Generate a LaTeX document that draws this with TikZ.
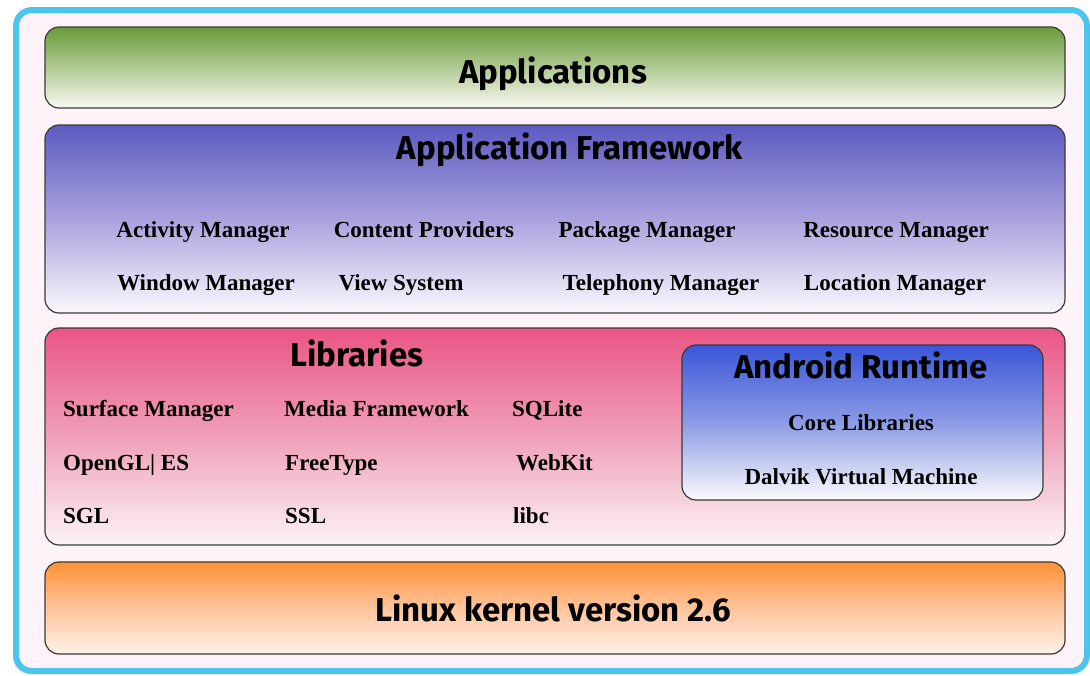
\documentclass[tikz,border=0pt]{standalone}
\usepackage{fontspec}
\setmainfont{Liberation Serif}
\newfontfamily\headfont{Fira Sans}
\usetikzlibrary{shadows}
\definecolor{frameblue}{HTML}{4BC5EE}
\definecolor{framefill}{HTML}{FDF3F8}
\definecolor{edgegray}{HTML}{3A3A3A}
\begin{document}
\begin{tikzpicture}[x=1pt,y=-1pt,
  layer/.style={draw=edgegray, line width=1.2pt, rounded corners=14pt, shading=axis, shading angle=0, inner sep=0pt},
  head/.style={font=\headfont\bfseries\fontsize{33}{36}\selectfont, inner sep=0pt, anchor=base},
  item/.style={font=\bfseries\fontsize{23}{26}\selectfont, inner sep=0pt, anchor=base},
  litem/.style={item, anchor=base west}]
\useasboundingbox (0,0) rectangle (1090,675);
\node[draw=frameblue, line width=6pt, fill=framefill, rounded corners=16pt, minimum width=1071pt, minimum height=661pt, inner sep=0pt, drop shadow={shadow xshift=-3pt, shadow yshift=-3pt, opacity=0.25}] (frame) at (551.5,340.5) {};
% layers
\node[layer, minimum width=1020pt, minimum height=81pt, top color={rgb,255:red,106;green,155;blue,58}, bottom color={rgb,255:red,248;green,249;blue,240}] (apps) at (555,67.5) {};
\node[layer, minimum width=1020pt, minimum height=188pt, top color={rgb,255:red,92;green,90;blue,192}, bottom color={rgb,255:red,252;green,248;blue,253}, middle color={rgb,255:red,170;green,162;blue,222}] (fw) at (555,219) {};
\node[layer, minimum width=1020pt, minimum height=217pt, top color={rgb,255:red,234;green,85;blue,133}, bottom color={rgb,255:red,251;green,244;blue,246}, middle color={rgb,255:red,240;green,160;blue,185}] (libs) at (555,436.5) {};
\node[layer, minimum width=361pt, minimum height=155pt, top color={rgb,255:red,58;green,86;blue,216}, bottom color={rgb,255:red,250;green,250;blue,252}, middle color={rgb,255:red,140;green,155;blue,230}] (rt) at (862.5,422.5) {};
\node[layer, minimum width=1020pt, minimum height=92pt, top color={rgb,255:red,255;green,146;blue,55}, bottom color={rgb,255:red,255;green,242;blue,234}, middle color={rgb,255:red,255;green,196;blue,155}] (linux) at (555,608) {};
% headings
\node[head] (appsT) at (553,83) {Applications};
\node[head] (fwT) at (570,159) {Application Framework};
\node[head] (libsT) at (357,366) {Libraries};
\node[head] (rtT) at (861,378) {Android Runtime};
\node[head] (linuxT) at (553,621) {Linux kernel version 2.6};
% framework items
\node[item] (am) at (203,237.5) {Activity Manager};
\node[item] (cp) at (424,237.5) {Content Providers};
\node[item] (pm) at (647,237.5) {Package Manager};
\node[item] (rm) at (896,237.5) {Resource Manager};
\node[item] (wm) at (206,290.5) {Window Manager};
\node[item] (vs) at (401,290.5) {View System};
\node[item] (tm) at (661,290.5) {Telephony Manager};
\node[item] (lm) at (895,290.5) {Location Manager};
% libraries items
\node[litem] (sm) at (63,416.5) {Surface Manager};
\node[litem] (mf) at (284,416.5) {Media Framework};
\node[litem] (sq) at (512,416.5) {SQLite};
\node[litem] (gl) at (63,470.5) {OpenGL| ES};
\node[litem] (ft) at (285,470.5) {FreeType};
\node[litem] (wk) at (516,470.5) {WebKit};
\node[litem] (sg) at (63,523.5) {SGL};
\node[litem] (ss) at (285,523.5) {SSL};
\node[litem] (lc) at (513,523.5) {libc};
% runtime items
\node[item] (cl) at (861,430.5) {Core Libraries};
\node[item] (dv) at (861,484.5) {Dalvik Virtual Machine};
\end{tikzpicture}
\end{document}
